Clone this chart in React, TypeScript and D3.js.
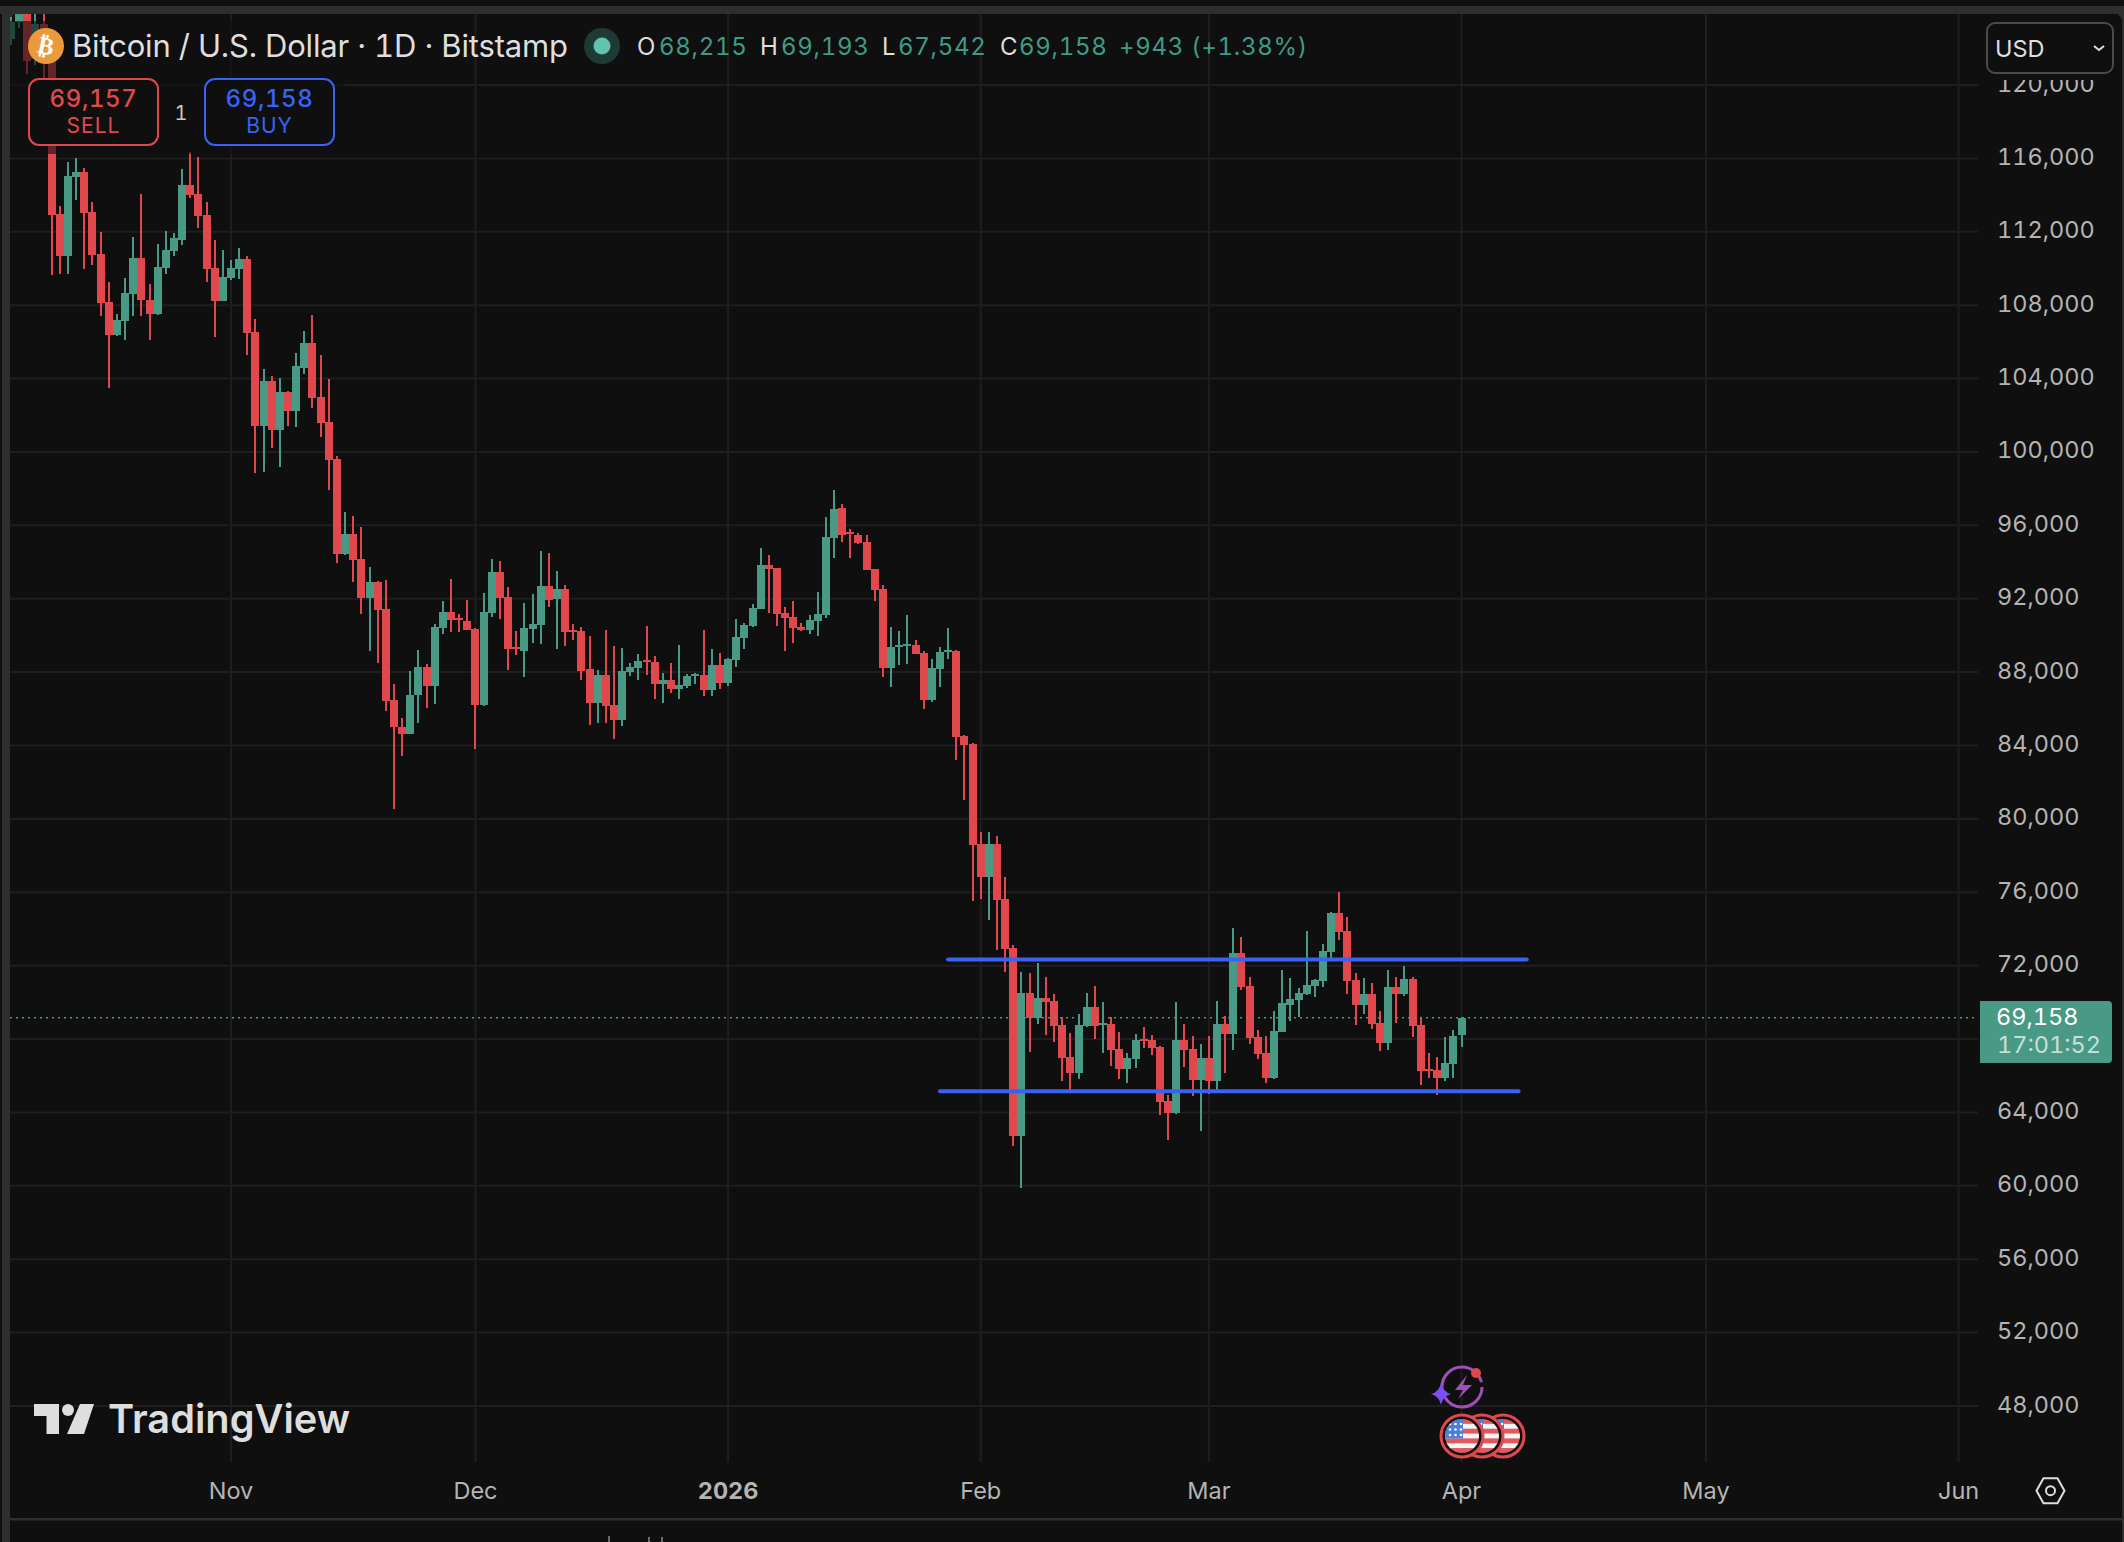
import React from "react";
import * as d3 from "d3";

const firstDate = "2025-10-05";
const opens = [
  122490,123450,124700,121400,123320,121700,112970,110680,115000,115260,
  113080,110790,108170,106370,107140,108610,110570,108280,107520,110030,
  110950,111550,114550,114060,112910,110030,108230,109480,109970,110520,
  106540,101410,103870,101200,103270,102230,104580,105940,102990,101630,
  99620,94440,95530,94170,92040,92910,91440,86480,85010,84630,
  86750,88280,87240,90400,91280,90950,90790,90350,86210,91220,
  93460,92090,89370,89150,90350,90570,92690,91990,92530,90300,
  90240,88170,86320,87840,86210,85390,88010,88220,88660,88550,
  87350,87570,87080,87240,87790,87840,87020,88390,87410,88660,
  89860,90510,91440,93840,93680,91220,91000,90460,90300,90790,
  91110,95310,96950,95640,95470,95090,93620,92530,88220,89370,
  89420,89480,89040,86480,88170,89100,89150,84510,84090,78620,
  76830,78620,75640,72960,62720,70520,69150,70240,70070,68760,
  67030,66140,68700,69750,68780,68820,67450,66370,66910,68000,
  67960,67570,64630,63970,67950,67460,65770,66970,65710,68820,
  68280,72690,70890,68110,67240,65880,68380,69860,70130,70460,
  70890,71160,72750,74870,73890,71220,69860,70460,68880,67790,
  70840,70460,71270,68770,66370,66310,65880,66640,68215,
];
const closes = [
  123450,124700,121330,123320,121700,112910,110680,115040,115260,113020,
  110730,108120,106370,107190,108660,110570,108280,107520,110080,111010,
  111660,114550,114000,112860,109970,108230,109530,110030,110520,106480,
  101410,103870,101200,103270,102230,104680,105940,102940,101580,99560,
  94440,95530,94110,92040,92910,91390,86420,85010,84630,86750,
  88280,87240,90460,91280,90840,90840,90300,86210,91280,93460,
  92040,89260,89260,90400,90620,92690,91930,92530,90190,90190,
  88060,86320,87840,86150,85390,88060,88280,88610,88550,87350,
  87570,87080,87300,87790,87900,87020,88390,87410,88720,89910,
  90570,91490,93840,93620,91170,90950,90400,90300,90840,91170,
  95360,96890,95470,95530,95040,93570,92480,88220,89370,89480,
  89530,88990,86480,88220,89100,89200,84460,84030,78580,76830,
  78620,75580,72920,62720,70520,69150,70240,70030,68700,66970,
  66140,68760,69750,68700,68890,67410,66370,66970,67960,67900,
  67510,64570,63970,67960,67400,65770,66970,65710,68820,68280,
  72690,70840,68060,67180,65880,68440,69970,70180,70510,70950,
  71220,72800,74870,73840,71160,69860,70460,68820,67790,70840,
  70460,71270,68710,66260,66260,65880,66700,68170,69158,
];
const highs = [
  123720,126100,125200,124000,124000,122500,113400,115780,116020,115480,
  113620,111990,109260,107520,109480,111710,114060,109150,111330,112040,
  111930,115420,116350,116080,113620,111550,111010,110460,111120,110680,
  107240,104520,104140,104030,103320,105390,106590,107460,105280,103980,
  99780,96730,96510,95910,93730,92950,93020,87350,85500,88060,
  89210,88440,90620,91880,93080,91170,91930,90400,92310,94170,
  94060,92640,90240,91770,92260,94600,94490,93510,92750,90620,
  90460,89970,88120,90300,89420,89310,88500,88990,90510,88880,
  87950,88500,89480,87900,87950,90300,89260,89040,88770,90900,
  90680,91710,94770,94380,93700,91550,91880,90680,91110,92370,
  96450,97930,97160,95800,95580,95470,93640,92750,90460,90240,
  91110,89750,89150,88720,89370,90400,89210,84570,84130,79290,
  79290,79070,76830,73120,71650,71610,72150,71390,70460,69210,
  68320,69370,70520,70900,70010,69210,68380,67230,68280,68660,
  68220,67610,64950,70010,68820,68170,67730,68170,70070,69260,
  74050,73560,71380,68490,68170,69530,71760,71330,70780,73890,
  71270,73180,74900,76020,74650,71600,71330,71060,69530,71760,
  71380,71980,71380,69150,67240,67020,68110,68490,69193,
];
const lows = [
  122180,123120,120600,121090,119400,109640,109700,109700,113730,109970,
  110190,107410,103480,106320,106100,107410,107410,106100,107460,109700,
  110680,111280,113840,112200,109260,106260,108200,109370,109420,105280,
  98850,98910,100210,99180,101410,101360,104250,102390,100810,97930,
  93950,94400,92910,91170,89150,88500,85880,80540,83430,84600,
  85230,86040,86260,90080,90190,90190,90280,83810,86150,91000,
  90900,88120,88930,87730,89590,89530,91550,89260,89420,89750,
  87570,85120,85230,85230,84350,85060,87790,87570,87840,86530,
  86320,86860,86530,87130,87350,86700,86700,87080,87240,88280,
  89260,90480,91420,91220,90510,89150,89590,90240,90080,89970,
  90950,94220,95090,94220,94980,93550,91880,87730,87190,88390,
  88440,88970,85990,86370,87190,88720,83210,81020,75520,75640,
  74490,72860,71670,62170,59870,67290,68820,68220,67840,65720,
  65050,65820,68660,68000,67230,66530,65820,65600,66430,67510,
  67130,63870,62490,63900,66480,64900,62990,65010,65220,66150,
  67400,70670,67730,66910,65610,65820,68360,68980,69200,70400,
  70290,70840,72250,73400,70460,68770,69370,68550,67350,67400,
  68880,70350,68110,65500,65880,64950,65710,65880,67542,
];
const priceTicks = [120000,116000,112000,108000,104000,100000,96000,92000,88000,84000,80000,76000,72000,68000,64000,60000,56000,52000,48000];
const priceLabels = [120000,116000,112000,108000,104000,100000,96000,92000,88000,84000,80000,76000,72000,64000,60000,56000,52000,48000];
const monthDates = ["2025-11-01","2025-12-01","2026-01-01","2026-02-01","2026-03-01","2026-04-01","2026-05-01","2026-06-01"];
const monthLabels = ["Nov","Dec","2026","Feb","Mar","Apr","May","Jun"];
const rangeHigh = 72330;
const rangeLow = 65150;
const rangeHighDates = ["2026-01-28", "2026-04-09"];
const rangeLowDates = ["2026-01-27", "2026-04-08"];
const lastPrice = 69158;

const W = 2124, H = 1542;
const BG = "#0f0f0f", GRID = "#1e1e1e", RED = "#e0484e", GREEN = "#489a84", BLUE = "#3862f6", TXT = "#b4b4b4", LIGHT = "#dedede", BAR = "#2e2e2e";
const FONT = "Inter, 'Noto Sans', sans-serif";

const utc = (s: string) => new Date(s + "T00:00:00Z");
const x = d3.scaleUtc().domain([utc("2025-11-01"), utc("2026-06-01")]).range([231, 1958.6]);
const y = d3.scaleLinear().domain([48000, 120000]).range([1406, 85]);
const fmt = d3.format(",");

const candles = opens.map((o, i) => ({
  date: d3.utcDay.offset(utc(firstDate), i),
  o, c: closes[i], h: highs[i], l: lows[i],
}));

function Flag({ cx, cy, id }: { cx: number; cy: number; id: string }) {
  const r = 17;
  const stripes = d3.range(7);
  const sh = (2 * r) / 7;
  return (
    <g>
      <circle cx={cx} cy={cy} r={21} fill={BG} stroke={RED} strokeWidth={3} />
      <clipPath id={id}><circle cx={cx} cy={cy} r={r} /></clipPath>
      <g clipPath={`url(#${id})`}>
        {stripes.map((s) => (
          <rect key={s} x={cx - r} y={cy - r + s * sh} width={2 * r} height={sh + 0.5} fill={s % 2 === 0 ? "#e2585c" : "#f4f4f4"} />
        ))}
        <rect x={cx - r} y={cy - r} width={r + 1} height={sh * 4} fill="#4a7fdc" />
        {[0, 1, 2].flatMap((a) => [0, 1, 2].map((b) => (
          <circle key={`${a}${b}`} cx={cx - r + 5 + a * 5.5} cy={cy - r + 5 + b * 5.5} r={1.3} fill="#fff" />
        )))}
      </g>
    </g>
  );
}

export default function App() {
  const bodyLeft = (d: Date) => Math.round(x(d)) - 4;
  return (
    <svg width={W} height={H} viewBox={`0 0 ${W} ${H}`} style={{ position: "fixed", left: 0, top: 0, display: "block", background: BG, fontVariantNumeric: "tabular-nums" }} fontFamily={FONT}>
      <defs>
        <clipPath id="plot"><rect x={10} y={14} width={1968} height={1448} /></clipPath>
      </defs>
      <rect width={W} height={H} fill={BG} />
      {/* frame */}
      <rect x={0} y={6} width={W} height={8} fill={BAR} />
      <rect x={2} y={6} width={8} height={1536} fill={BAR} />
      <rect x={2122} y={6} width={2} height={1536} fill={BAR} />
      <rect x={10} y={1518} width={2112} height={2.5} fill={BAR} />
      <path d="M10,14 h8 q-8,0 -8,8 z" fill={BAR} />
      <path d="M2122,14 h-8 q8,0 8,8 z" fill={BAR} />

      {/* grid */}
      <g stroke={GRID} strokeWidth={2}>
        {priceTicks.map((t) => <line key={t} x1={10} x2={1978} y1={y(t)} y2={y(t)} />)}
        {monthDates.map((m) => <line key={m} x1={x(utc(m))} x2={x(utc(m))} y1={14} y2={1462} />)}
      </g>

      {/* candles */}
      <g clipPath="url(#plot)" shapeRendering="crispEdges">
        {candles.map((k, i) => {
          const col = k.c >= k.o ? GREEN : RED;
          const left = bodyLeft(k.date);
          const top = y(Math.max(k.o, k.c));
          const bot = y(Math.min(k.o, k.c));
          return (
            <g key={i} fill={col}>
              <rect x={left + 3} y={y(k.h)} width={2} height={y(k.l) - y(k.h)} />
              <rect x={left} y={top} width={8} height={Math.max(2, bot - top)} />
            </g>
          );
        })}
      </g>

      {/* drawn range lines */}
      <g stroke={BLUE} strokeWidth={4} strokeLinecap="round">
        <line x1={x(utc(rangeHighDates[0]))} x2={x(utc(rangeHighDates[1]))} y1={y(rangeHigh)} y2={y(rangeHigh)} />
        <line x1={x(utc(rangeLowDates[0]))} x2={x(utc(rangeLowDates[1]))} y1={y(rangeLow)} y2={y(rangeLow)} />
      </g>

      {/* last price line */}
      <line x1={10} x2={1975} y1={y(lastPrice)} y2={y(lastPrice)} stroke={GREEN} strokeWidth={1.6} strokeDasharray="2 4" />

      {/* legend veil */}
      <rect x={10} y={21} width={335} height={133} fill={BG} opacity={0.6} />

      {/* axis labels */}
      <g fontSize={23.5} fill={TXT}>
        {priceLabels.map((t) => (
          <text key={t} x={1997} y={y(t) + 6.5}>{fmt(t)}</text>
        ))}
        {monthLabels.map((m, i) => (
          <text key={m} x={x(utc(monthDates[i]))} y={1499} textAnchor="middle" fontWeight={m === "2026" ? 700 : 400}>{m}</text>
        ))}
      </g>

      {/* USD selector */}
      <rect x={1982} y={14} width={136} height={66} fill={BG} />
      <rect x={1987} y={23} width={126} height={50} rx={8} fill={BG} stroke="#4a4a4a" strokeWidth={2} />
      <text x={1995} y={57} fontSize={23.5} fill={LIGHT}>USD</text>
      <path d="M2094,46 l5,4 l5,-4" fill="none" stroke={LIGHT} strokeWidth={2} />

      {/* last price tag */}
      <path d="M1980,1001 h128 q4,0 4,4 v54 q0,4 -4,4 h-128 z" fill={GREEN} />
      <text x={1996} y={1025} fontSize={23.5} fill="#ffffff">{fmt(lastPrice)}</text>
      <text x={1997} y={1053} fontSize={23.5} fill="#ffffff" fillOpacity={0.7}>17:01:52</text>

      {/* title row */}
      <circle cx={46} cy={46} r={18} fill="#e89a3c" />
      <text x={46} y={54} fontSize={24} fontWeight={700} fill="#fff" textAnchor="middle" fontFamily="'DejaVu Sans'" transform="rotate(12 46 46)">₿</text>
      <text x={72} y={57} fontSize={31} fill={LIGHT} textLength={496}>Bitcoin / U.S. Dollar · 1D · Bitstamp</text>
      <circle cx={602} cy={46} r={18} fill="#1f3a35" />
      <circle cx={602} cy={46} r={8.5} fill="#62c2ad" />
      <g fontSize={24} fill={LIGHT}>
        <text x={637} y={55}>O</text>
        <text x={760} y={55}>H</text>
        <text x={882} y={55}>L</text>
        <text x={1000} y={55}>C</text>
      </g>
      <g fontSize={24} fill="#3f9a85" letterSpacing={0.7}>
        <text x={659} y={55}>68,215</text>
        <text x={781} y={55}>69,193</text>
        <text x={898} y={55}>67,542</text>
        <text x={1019} y={55}>69,158</text>
        <text x={1119} y={55}>+943 (+1.38%)</text>
      </g>

      {/* sell / buy */}
      <rect x={29} y={79} width={129} height={66} rx={10} fill={BG} stroke={RED} strokeWidth={2} />
      <text x={93.5} y={107} fontSize={24} fontWeight={500} fill={RED} textAnchor="middle" letterSpacing={0.6}>69,157</text>
      <text x={93.5} y={133} fontSize={21} fill={RED} textAnchor="middle" letterSpacing={1}>SELL</text>
      <text x={181} y={120} fontSize={20} fill="#c8c8c8" textAnchor="middle">1</text>
      <rect x={205} y={79} width={129} height={66} rx={10} fill={BG} stroke={BLUE} strokeWidth={2} />
      <text x={269.5} y={107} fontSize={24} fontWeight={500} fill={BLUE} textAnchor="middle" letterSpacing={0.6}>69,158</text>
      <text x={269.5} y={133} fontSize={21} fill={BLUE} textAnchor="middle" letterSpacing={1}>BUY</text>

      {/* TradingView logo */}
      <g fill={LIGHT}>
        <path d="M34,1404 H59 V1434 H46.5 V1416 H34 Z" />
        <circle cx={68} cy={1410} r={6} />
        <path d="M80,1404 H94 L84,1434 H67 Z" />
        <text x={108} y={1433} fontSize={40} fontWeight={600} fontFamily="Inter, sans-serif" textLength={242} lengthAdjust="spacingAndGlyphs">TradingView</text>
      </g>

      {/* event icons */}
      <g>
        <circle cx={1462} cy={1387} r={20} fill="none" stroke="#a04fb8" strokeWidth={3} strokeDasharray="52 8 60 6" />
        <path d="M1467,1375 L1455,1390 L1463,1390 L1458,1399 L1472,1385 L1463,1385 Z" fill="#a04fb8" />
        <circle cx={1476} cy={1373} r={5} fill={RED} />
        <path d="M1441,1383 Q1443,1392 1451,1394 Q1443,1396 1441,1405 Q1439,1396 1431,1394 Q1439,1392 1441,1383 Z" fill="#7a4ff5" />
        <Flag cx={1503} cy={1436} id="f3" />
        <Flag cx={1482} cy={1436} id="f2" />
        <Flag cx={1462} cy={1436} id="f1" />
      </g>

      {/* settings */}
      <path d="M2036.5,1490.7 L2043.5,1478.2 H2057.5 L2064.5,1490.7 L2057.5,1503.2 H2043.5 Z" fill="none" stroke={LIGHT} strokeWidth={2} />
      <circle cx={2050.5} cy={1490.7} r={4.5} fill="none" stroke={LIGHT} strokeWidth={2} />

      {/* remnants under the frame */}
      <g stroke="#8a8a8a" strokeWidth={1.5}>
        <line x1={609} x2={609} y1={1536} y2={1542} />
        <line x1={649} x2={649} y1={1537} y2={1542} />
        <line x1={662} x2={662} y1={1537} y2={1542} />
      </g>
    </svg>
  );
}
